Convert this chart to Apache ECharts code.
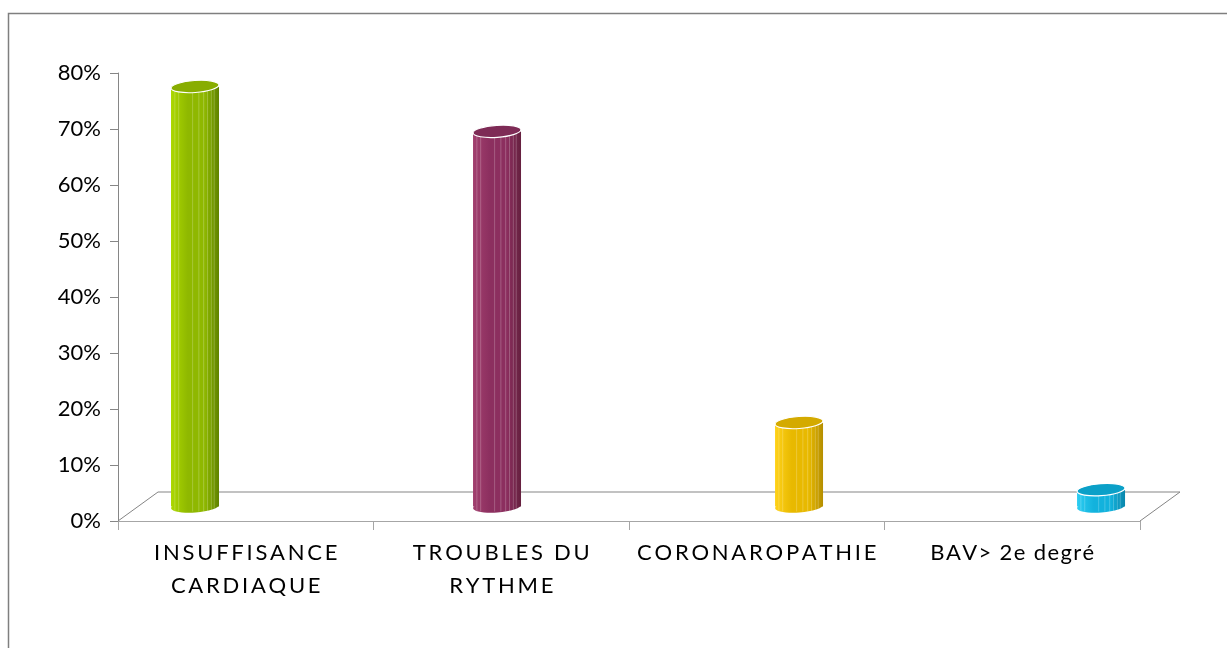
<!DOCTYPE html>
<html>
<head>
<meta charset="utf-8">
<title>Répartition des antécédents cardiaques</title>
<script src="https://cdn.jsdelivr.net/npm/echarts@6/dist/echarts.min.js"></script>
<style>
  html, body { margin: 0; padding: 0; background: #ffffff; }
  #chart { width: 1227px; height: 648px; }
</style>
</head>
<body>
<div id="chart"></div>
<script>
// Categories and their shares (fraction of patients)
const categories = ['INSUFFISANCE\nCARDIAQUE', 'TROUBLES DU\nRYTHME', 'CORONAROPATHIE', 'BAV> 2e degré'];
const shares = [0.75, 0.67, 0.15, 0.03];
const yTickLabels = ['0%', '10%', '20%', '30%', '40%', '50%', '60%', '70%', '80%'];

// Cylinder colours: light edge, middle, shaded edge, top cap
const palette = [
  { light: '#acd800', mid: '#8fb800', dark: '#5f8200', top: '#88ad00' },
  { light: '#a2406f', mid: '#8c2f5f', dark: '#65203f', top: '#7e2b56' },
  { light: '#ffd21a', mid: '#e8b900', dark: '#b48e00', top: '#d4aa00' },
  { light: '#2ccdf2', mid: '#12b2dd', dark: '#0a86ab', top: '#0ba0c8' }
];

const FONT = "Lato, 'DejaVu Sans', sans-serif";
const DEPTH_X = 40;   // floor depth, horizontal shift of back edge
const DEPTH_Y = 29;   // floor depth, vertical shift of back edge
const RX = 24;        // cylinder radius
const RY = 6;         // ellipse half-height of cylinder caps
const TILT = 0.07;    // slight cap tilt

// Category labels are drawn letter-spaced: upper-case ones widely, others lightly
function spaced(s) {
  const gap = s === s.toUpperCase() ? '\u2009' : '\u200A';
  return s.split('\n').map(line => line.split('').join(gap)).join('\n');
}

function renderFloor(params, api) {
  const cs = params.coordSys;
  const b = cs.y + cs.height;
  return {
    type: 'polyline',
    shape: {
      points: [
        [cs.x, b],
        [cs.x + DEPTH_X, b - DEPTH_Y],
        [cs.x + cs.width + DEPTH_X, b - DEPTH_Y],
        [cs.x + cs.width, b]
      ]
    },
    style: { stroke: '#858585', lineWidth: 1, fill: null }
  };
}

function renderCylinder(params, api) {
  const i = params.dataIndex;
  const base = api.coord([api.value(0), 0]);
  const top = api.coord([api.value(0), api.value(1)]);
  const cx = base[0];
  const yb = base[1] - DEPTH_Y / 2;
  const yt = top[1] - DEPTH_Y / 2;
  const p = palette[i];
  const grad = () => new echarts.graphic.LinearGradient(0, 0, 1, 0, [
    { offset: 0, color: p.light },
    { offset: 0.35, color: p.mid },
    { offset: 0.7, color: p.mid },
    { offset: 1, color: p.dark }
  ]);
  const stripes = [0.08, 0.16, 0.45, 0.58, 0.68, 0.76, 0.84, 0.9].map(f => ({
    type: 'line',
    shape: { x1: cx - RX + f * 2 * RX, y1: yt, x2: cx - RX + f * 2 * RX, y2: yb + RY - 1 },
    style: { stroke: 'rgba(255,255,255,0.22)', lineWidth: 1 }
  }));
  return {
    type: 'group',
    children: [
      { type: 'ellipse', x: cx, y: yb, rotation: TILT,
        shape: { cx: 0, cy: 0, rx: RX, ry: RY }, style: { fill: grad() } },
      { type: 'rect', shape: { x: cx - RX, y: yt, width: 2 * RX, height: yb - yt },
        style: { fill: grad() } },
      ...stripes,
      { type: 'ellipse', x: cx, y: yt, rotation: TILT,
        shape: { cx: 0, cy: 0, rx: RX, ry: RY },
        style: { fill: p.top, stroke: '#ffffff', lineWidth: 1.2 } }
    ]
  };
}

const chart = echarts.init(document.getElementById('chart'), null, { renderer: 'canvas' });

chart.setOption({
  backgroundColor: '#ffffff',
  animation: false,
  graphic: [{
    type: 'rect',
    shape: { x: 8.5, y: 13.5, width: 1300, height: 700 },
    style: { fill: null, stroke: '#7f7f7f', lineWidth: 1.5 },
    silent: true
  }],
  grid: { left: 118, right: 87, top: 73, bottom: 127 },
  xAxis: [
    {
      type: 'category',
      data: categories,
      boundaryGap: true,
      axisLine: { show: true, onZero: false, lineStyle: { color: '#a6a6a6', width: 1 } },
      axisTick: { show: true, length: 9, lineStyle: { color: '#a6a6a6' } },
      axisLabel: {
        color: '#000000', fontSize: 22, fontFamily: FONT, lineHeight: 33,
        margin: 15, interval: 0, formatter: spaced
      },
      splitLine: { show: false }
    },
    {
      // placement of the cylinders along the receding floor
      type: 'value', show: false, min: -0.255, max: 3.129,
      axisLine: { show: false, onZero: false }, axisTick: { show: false },
      axisLabel: { show: false }, splitLine: { show: false }
    }
  ],
  yAxis: {
    type: 'value',
    min: 0, max: 0.8, interval: 0.1,
    axisLine: { show: true, onZero: false, lineStyle: { color: '#868686', width: 1 } },
    axisTick: { show: true, length: 8, lineStyle: { color: '#868686' } },
    axisLabel: {
      color: '#000000', fontSize: 22, fontFamily: FONT, margin: 17,
      formatter: v => yTickLabels[Math.round(v * 10)]
    },
    splitLine: { show: false }
  },
  series: [
    {
      type: 'custom', name: 'floor', xAxisIndex: 1, yAxisIndex: 0,
      data: [[0, 0]], renderItem: renderFloor, z: 1, silent: true
    },
    {
      type: 'custom', name: 'Antécédents', xAxisIndex: 1, yAxisIndex: 0,
      data: shares.map((v, i) => [i, v]), renderItem: renderCylinder, z: 3,
      encode: { x: 0, y: 1 }
    }
  ]
});
</script>
</body>
</html>
